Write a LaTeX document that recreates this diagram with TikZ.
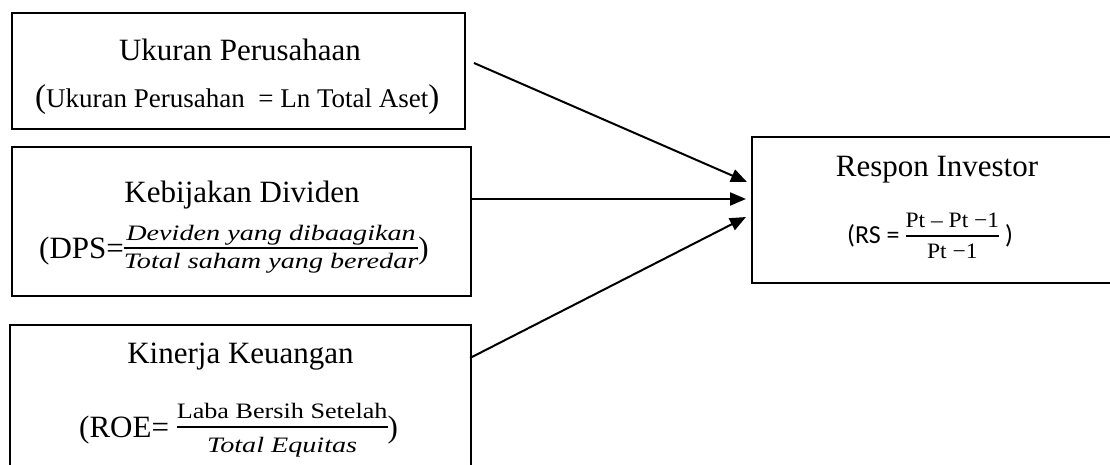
\documentclass[tikz,border=0pt]{standalone}
\usepackage{fontspec}
\setmainfont{Liberation Serif}
\newfontfamily\camup[FakeStretch=1.19]{Liberation Serif}
\newfontfamily\camnum[FakeStretch=1.07]{Liberation Serif}
\newfontfamily\camit[FakeStretch=1.28]{Liberation Serif}
\newfontfamily\carl{Carlito}
\usetikzlibrary{arrows.meta,calc}
\newdimen\frw
% #1 numerator, #2 denominator, #3 numerator raise, #4 bar raise (bottom), #5 denominator lower, #6 bar thickness
\newcommand\myfr[6]{\begingroup
  \setbox0\hbox{#1}\setbox2\hbox{#2}%
  \frw=\wd0 \ifdim\wd2>\frw \frw=\wd2 \fi
  \rlap{\raisebox{#3}{\hbox to\frw{\hss\box0\hss}}}%
  \rlap{\raisebox{#4}{\rule{\frw}{#6}}}%
  \raisebox{-#5}{\hbox to\frw{\hss\box2\hss}}%
  \endgroup}
\tikzset{
  boxst/.style={draw,line width=2pt,inner sep=0pt,rectangle},
  titlest/.style={anchor=base,inner sep=0pt,font=\fontsize{31}{36}\selectfont},
  formst/.style={anchor=base west,inner sep=0pt,font=\fontsize{31}{36}\selectfont},
  arr/.style={line width=2pt,-{Triangle[length=16pt,width=13pt]}},
}
\begin{document}
\begin{tikzpicture}[x=1pt,y=-1pt]
\clip (0,0) rectangle (1110,465);
\fill[white] (0,0) rectangle (1110,465);
% boxes
\node[boxst,minimum width=453pt,minimum height=116pt] (b1) at (238.5,71) {};
\node[boxst,minimum width=459pt,minimum height=149pt] (b2) at (241.5,221.5) {};
\node[boxst,minimum width=461pt,minimum height=155pt] (b3) at (240.5,402.5) {};
\node[boxst,minimum width=370pt,minimum height=146pt] (rb) at (937,210) {};
% texts
\node[titlest] (t1) at (240,61) {Ukuran Perusahaan};
\node[anchor=base west,inner sep=0pt,font=\fontsize{27}{32}\selectfont] (f1) at (35,108)
  {{\fontsize{33}{36}\selectfont(}Ukuran Perusahan\ \ = Ln Total Aset{\fontsize{33}{36}\selectfont)}};
\node[titlest] (t2) at (242,203) {Kebijakan Dividen};
\node[formst] (f2) at (39,258)
  {(DPS=\myfr{\camit\itshape\fontsize{22}{24}\selectfont Deviden yang dibaagikan}{\camit\itshape\fontsize{22}{24}\selectfont Total saham yang beredar}{18pt}{9pt}{10pt}{2pt})};
\node[titlest] (t3) at (240.5,363) {Kinerja Keuangan};
\node[formst] (f3) at (79,437)
  {(ROE= \myfr{\camup\fontsize{22}{24}\selectfont Laba Bersih Setelah}{\camit\itshape\fontsize{22}{24}\selectfont Total Equitas}{19pt}{9pt}{15pt}{2pt})};
\node[titlest] (t4) at (937,177) {Respon Investor};
\node[anchor=base west,inner sep=0pt,font=\fontsize{26}{30}\selectfont\carl] (f4) at (847,243)
  {(RS = \myfr{\camnum\fontsize{22}{24}\selectfont Pt – Pt −1}{\camnum\fontsize{22}{24}\selectfont Pt −1}{16pt}{6pt}{15pt}{2pt}\ )};
% arrows
\draw[arr] ([xshift=8pt,yshift=8pt]b1.east) -- ([xshift=-4pt,yshift=28pt]rb.west);
\draw[arr] ([yshift=22.5pt]b2.east) -- ([xshift=-5pt,yshift=11pt]rb.west);
\draw[arr] ([xshift=-2pt,yshift=44.5pt]b3.east) -- ([xshift=-5pt,yshift=-7pt]rb.west);
\end{tikzpicture}
\end{document}
